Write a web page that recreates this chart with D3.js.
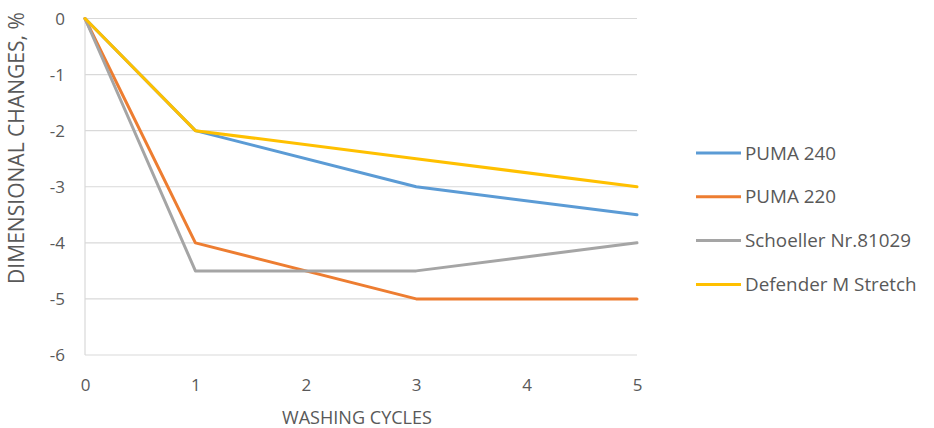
<!DOCTYPE html>
<html><head><meta charset="utf-8">
<script src="https://cdn.jsdelivr.net/npm/d3@7"></script>
<style>body{margin:0;background:#fff;} text{font-family:"Open Sans","Noto Sans",sans-serif;fill:#595959;}</style>
</head><body><svg id="c" width="934" height="428"></svg>
<script>
const cycles = [0, 1, 3, 5];
const seriesNames = ["PUMA 240", "PUMA 220", "Schoeller Nr.81029", "Defender M Stretch"];
const puma240 = [0, -2, -3, -3.5];
const puma220 = [0, -4, -5, -5];
const schoeller = [0, -4.5, -4.5, -4];
const defender = [0, -2, -2.5, -3];
const xTicks = [0, 1, 2, 3, 4, 5];
const yTicks = [0, -1, -2, -3, -4, -5, -6];
const colors = ["#5B9BD5", "#ED7D31", "#A5A5A5", "#FFC000"];
const allSeries = [puma240, puma220, schoeller, defender];

const svg = d3.select("#c");
const x = d3.scaleLinear().domain([0, 5]).range([85, 637]);
const y = d3.scaleLinear().domain([0, -6]).range([18.5, 355]);
const fmt = d => String(d);

function fitFont(sel, base, target) {
  sel.style("font-size", base + "px");
  const w = sel.node().getComputedTextLength();
  sel.style("font-size", (base * target / w).toFixed(2) + "px");
}

// gridlines
svg.append("g").selectAll("line").data(yTicks).join("line")
  .attr("x1", x(0)).attr("x2", x(5))
  .attr("y1", d => y(d)).attr("y2", d => y(d))
  .attr("stroke", "#d9d9d9").attr("stroke-width", 1.2);
// left axis line
svg.append("line").attr("x1", x(0)).attr("x2", x(0)).attr("y1", y(0)).attr("y2", y(-6))
  .attr("stroke", "#d9d9d9").attr("stroke-width", 1.2);

// y tick labels
const yAxis = d3.axisLeft(y).tickValues(yTicks).tickSize(0).tickPadding(0).tickFormat(fmt);
const gy = svg.append("g").attr("transform", "translate(65,0)").call(yAxis);
gy.select(".domain").remove();
gy.selectAll("text").style("font-size", "17px").attr("fill", "#595959").attr("dy", "0.35em");

// x tick labels
const xAxis = d3.axisBottom(x).tickValues(xTicks).tickSize(0).tickPadding(0).tickFormat(fmt);
const gx = svg.append("g").attr("transform", "translate(0,379)").call(xAxis);
gx.select(".domain").remove();
gx.selectAll("text").style("font-size", "17px").attr("fill", "#595959").attr("dy", "0.71em");

// lines
const line = d3.line().x((d, i) => x(cycles[i])).y(d => y(d));
svg.append("g").selectAll("path").data(allSeries).join("path")
  .attr("d", d => line(d)).attr("fill", "none")
  .attr("stroke", (d, i) => colors[i]).attr("stroke-width", 3).attr("stroke-linejoin", "round").attr("stroke-linecap", "round");

// axis titles
const xt = svg.append("text").attr("x", 357).attr("y", 418).attr("dy", "0.35em").attr("text-anchor", "middle")
  .text("WASHING CYCLES");
fitFont(xt, 17, 150);
const yt = svg.append("text").attr("transform", "translate(17,148) rotate(-90)").attr("dy", "0.35em").attr("text-anchor", "middle")
  .text("DIMENSIONAL CHANGES, %");
fitFont(yt, 17, 272);

// legend
const lg = svg.append("g").selectAll("g").data(seriesNames).join("g")
  .attr("transform", (d, i) => `translate(696,${153 + i * 43.8})`);
lg.append("line").attr("x1", 0).attr("x2", 45).attr("stroke", (d, i) => colors[i]).attr("stroke-width", 3);
const lt = lg.append("text").attr("x", 49).attr("dy", "0.35em").text(d => d);
const probe = lt.filter((d, i) => i === 2);
probe.style("font-size", "18px");
const pw = probe.node().getComputedTextLength();
lt.style("font-size", (18 * 166 / pw).toFixed(2) + "px");
</script></body></html>
